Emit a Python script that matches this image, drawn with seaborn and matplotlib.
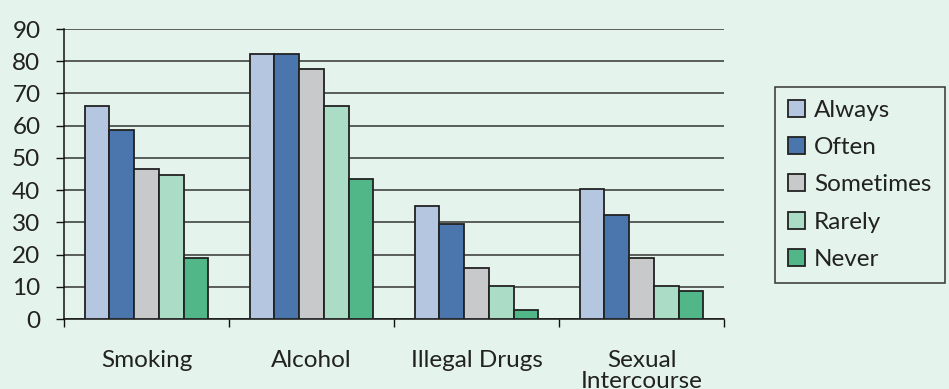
import matplotlib
matplotlib.use("Agg")
import matplotlib.pyplot as plt
import seaborn as sns
import pandas as pd
import numpy as np

categories = ["Smoking", "Alcohol", "Illegal Drugs", "Sexual\nIntercourse"]
series = ["Always", "Often", "Sometimes", "Rarely", "Never"]
always = [66, 82.3, 35, 40.5]
often = [58.6, 82.3, 29.6, 32.2]
sometimes = [46.4, 77.5, 15.9, 18.8]
rarely = [44.6, 66, 10.1, 10.1]
never = [18.8, 43.4, 2.8, 8.6]
colors = ["#b4c6e0", "#4a76ad", "#c8c9cb", "#abdcc5", "#52b788"]

values = [always, often, sometimes, rarely, never]
rows = []
for s, vals in zip(series, values):
    for c, v in zip(categories, vals):
        rows.append({"Category": c, "Series": s, "Value": v})
df = pd.DataFrame(rows)

sns.set_theme(style="white")
plt.rcParams["font.family"] = ["Lato", "DejaVu Sans"]
bg = "#e4f4ec"
fs = 17.5

fig = plt.figure(figsize=(9.49, 3.89), dpi=100, facecolor=bg)
ax = fig.add_axes([64/949, 1-319/389, (724-64)/949, (319-29)/389])
ax.set_facecolor(bg)

sns.barplot(data=df, x="Category", y="Value", hue="Series", order=categories,
            hue_order=series, palette=colors, width=0.75, gap=0,
            edgecolor="#222222", linewidth=1.3, saturation=1, ax=ax, zorder=3)

ax.set_ylim(0, 90)
ax.set_xlim(-0.5, 3.5)
ax.set_yticks(np.arange(0, 91, 10))
ax.yaxis.grid(True, color="#333333", linewidth=1.1, zorder=0)
ax.set_axisbelow(True)
ax.set_xlabel("")
ax.set_ylabel("")
for s in ["top", "right"]:
    ax.spines[s].set_visible(False)
for s in ["left", "bottom"]:
    ax.spines[s].set_color("#111111")
    ax.spines[s].set_linewidth(1.1)

ax.tick_params(axis="y", which="major", left=True, length=6, width=1, color="#111111",
               labelsize=fs, pad=11, labelcolor="#222222")
ax.tick_params(axis="x", which="major", bottom=False, labelsize=fs, pad=16,
               labelcolor="#222222")
for t in ax.get_xticklabels():
    t.set_linespacing(1.0)
ax.set_xticks(np.arange(-0.5, 3.6, 1), minor=True)
ax.tick_params(axis="x", which="minor", bottom=True, length=6, width=1, color="#111111")

handles, labels = ax.get_legend_handles_labels()
leg = ax.legend(handles, labels, loc="upper left",
                bbox_to_anchor=(775/949, 1-87/389), bbox_transform=fig.transFigure,
                frameon=True, fancybox=False, edgecolor="#333333", facecolor=bg,
                fontsize=fs, handlelength=0.7, handleheight=0.7, handletextpad=0.35,
                labelspacing=0.66, borderpad=0.55, borderaxespad=0, framealpha=1)
leg.get_frame().set_linewidth(1.1)
for t in leg.get_texts():
    t.set_color("#222222")

fig.savefig("out.png", dpi=100, facecolor=bg)
